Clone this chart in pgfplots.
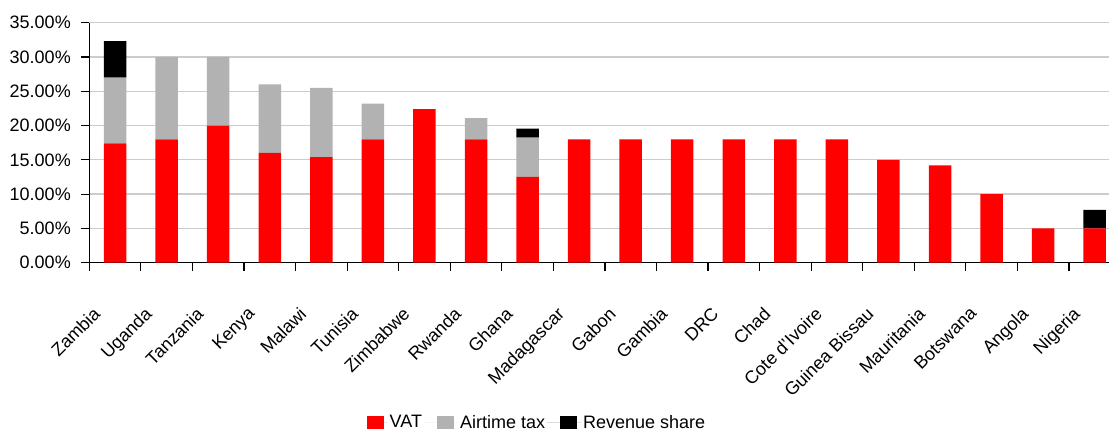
\documentclass[border=0pt]{standalone}
\usepackage{pgfplots}
\pgfplotsset{compat=1.18}
\usepackage{fontspec}
\setmainfont{Liberation Sans}
\usetikzlibrary{calc}

\definecolor{vatred}{RGB}{255,0,0}
\definecolor{airgray}{RGB}{178,178,178}
\newcommand\chartfont{\fontsize{18}{21}\selectfont}

\begin{document}
\begin{tikzpicture}
\begin{axis}[
  name=ax,
  scale only axis,
  width=1019.7pt, height=240pt,
  ybar stacked, bar width=22.5pt,
  xmin=-0.5, xmax=19.277, ymin=0, ymax=35,
  axis lines=left,
  axis line style={-, line width=1.2pt},
  tick align=outside, major tick length=8pt,
  tick style={black, line width=1.2pt},
  ytick={0,5,...,35},
  yticklabels={0.00\%,5.00\%,10.00\%,15.00\%,20.00\%,25.00\%,30.00\%,35.00\%},
  ymajorgrids, grid style={gray!40, line width=1.3pt},
  xtick={-0.5,0.5,...,18.5}, xticklabels={},
  extra x ticks={0,...,19},
  extra x tick labels={Zambia,Uganda,Tanzania,Kenya,Malawi,Tunisia,Zimbabwe,Rwanda,Ghana,Madagascar,Gabon,Gambia,DRC,Chad,Cote d'Ivoire,Guinea Bissau,Mauritania,Botswana,Angola,Nigeria},
  extra x tick style={major tick length=0pt},
  tick label style={font=\chartfont},
  yticklabel style={xshift=-7pt},
  xticklabel style={xshift=-23pt, yshift=-43pt, rotate=45, anchor=north east, inner sep=0pt},
  legend style={at={(0.439,-0.666)}, anchor=center, draw=none, fill=none,
    legend columns=-1, font=\chartfont},
]
% VAT
\addplot[fill=vatred, draw=none,
  legend image code/.code={\fill[vatred] (0pt,-6.5pt) rectangle (17pt,6.5pt);
    \path (0pt,0pt) -- (21pt,0pt);}] coordinates {
  (0,17.4) (1,18) (2,20) (3,16) (4,15.4) (5,18) (6,22.4) (7,18) (8,12.5) (9,18)
  (10,18) (11,18) (12,18) (13,18) (14,18) (15,15) (16,14.2) (17,10) (18,5) (19,5)};
\addlegendentry{VAT}
% Airtime tax
\addplot[fill=airgray, draw=none,
  legend image code/.code={\fill[airgray] (0pt,-6.5pt) rectangle (17pt,6.5pt);
    \path (-13pt,0pt) -- (21pt,0pt);}] coordinates {
  (0,9.6) (1,12) (2,10) (3,10) (4,10.1) (5,5.2) (6,0) (7,3.1) (8,5.75) (9,0)
  (10,0) (11,0) (12,0) (13,0) (14,0) (15,0) (16,0) (17,0) (18,0) (19,0)};
\addlegendentry{Airtime tax}
% Revenue share
\addplot[fill=black, draw=none,
  legend image code/.code={\fill[black] (0pt,-6.5pt) rectangle (17pt,6.5pt);
    \path (-13pt,0pt) -- (21pt,0pt);}] coordinates {
  (0,5.3) (1,0) (2,0) (3,0) (4,0) (5,0) (6,0) (7,0) (8,1.3) (9,0)
  (10,0) (11,0) (12,0) (13,0) (14,0) (15,0) (16,0) (17,0) (18,0) (19,2.7)};
\addlegendentry{Revenue share}
\end{axis}
\pgfresetboundingbox
\path ($(ax.south west)+(-89.3pt,-167.3pt)$) rectangle ($(ax.north east)+(0pt,22.7pt)$);
\end{tikzpicture}
\end{document}
